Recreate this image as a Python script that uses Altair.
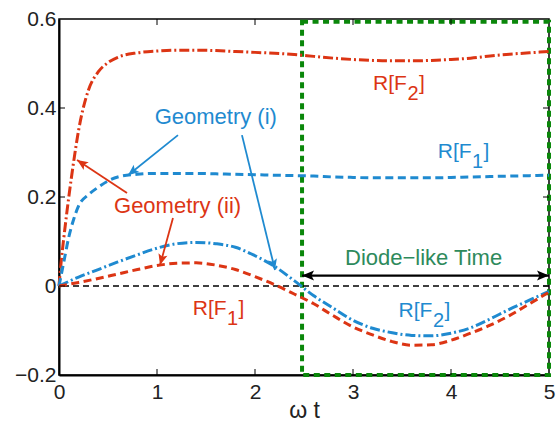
import math
import altair as alt
import pandas as pd

# ---------------- data ----------------
# R[F2], geometry (ii)  (red dash-dot)
x_f2_ii = [0, 0.02, 0.05, 0.1, 0.15, 0.2, 0.3, 0.4, 0.5, 0.6, 0.8, 1.0, 1.2, 1.4, 1.6, 1.8,
           2.0, 2.2, 2.4, 2.6, 2.8, 3.0, 3.2, 3.4, 3.6, 3.8, 4.0, 4.2, 4.4, 4.6, 4.8, 5.0]
y_f2_ii = [0, 0.05, 0.11, 0.2, 0.28, 0.35, 0.44, 0.481, 0.502, 0.514, 0.524, 0.528, 0.530,
           0.530, 0.529, 0.527, 0.525, 0.523, 0.520, 0.516, 0.512, 0.509, 0.507, 0.506, 0.506,
           0.507, 0.509, 0.512, 0.517, 0.521, 0.524, 0.527]

# R[F1], geometry (i)  (blue dashed)
x_f1_i = [0, 0.05, 0.1, 0.15, 0.2, 0.3, 0.4, 0.5, 0.6, 0.8, 1.0, 1.2, 1.4, 1.6, 1.8, 2.0,
          2.2, 2.4, 2.6, 2.8, 3.0, 3.2, 3.4, 3.6, 3.8, 4.0, 4.2, 4.4, 4.6, 4.8, 5.0]
y_f1_i = [0, 0.055, 0.11, 0.15, 0.18, 0.205, 0.222, 0.236, 0.245, 0.251, 0.253, 0.253,
          0.253, 0.252, 0.251, 0.250, 0.249, 0.248, 0.247, 0.245, 0.244, 0.243, 0.243,
          0.243, 0.243, 0.244, 0.245, 0.246, 0.247, 0.248, 0.249]

# R[F2], geometry (i)  (blue dash-dot)
x_f2_i = [0, 0.2, 0.4, 0.6, 0.8, 1.0, 1.2, 1.4, 1.6, 1.8, 2.0, 2.2, 2.4, 2.6, 2.8, 3.0,
          3.2, 3.4, 3.6, 3.8, 4.0, 4.2, 4.4, 4.6, 4.8, 5.0]
y_f2_i = [0, 0.02, 0.037, 0.054, 0.07, 0.085, 0.095, 0.098, 0.095, 0.087, 0.068, 0.044,
          0.012, -0.022, -0.05, -0.077, -0.095, -0.105, -0.111, -0.112, -0.106, -0.094,
          -0.074, -0.052, -0.032, -0.012]

# R[F1], geometry (ii)  (red dashed)
x_f1_ii = [0, 0.2, 0.4, 0.6, 0.8, 1.0, 1.2, 1.4, 1.6, 1.8, 2.0, 2.2, 2.4, 2.6, 2.8, 3.0,
           3.2, 3.4, 3.6, 3.8, 4.0, 4.2, 4.4, 4.6, 4.8, 5.0]
y_f1_ii = [0, 0.008, 0.017, 0.027, 0.037, 0.046, 0.051, 0.052, 0.047, 0.037, 0.021, 0.003,
           -0.018, -0.04, -0.067, -0.092, -0.11, -0.125, -0.133, -0.132, -0.122, -0.106,
           -0.088, -0.066, -0.04, -0.014]

x_ticks = [0, 1, 2, 3, 4, 5]
y_ticks = [-0.2, 0, 0.2, 0.4, 0.6]

diode_start = 2.48
diode_end = 5.0

# annotation texts
ann_text = ["Geometry (i)", "Geometry (ii)", "Diode\u2212like Time"]
ann_x = [1.60, 1.21, 3.72]
ann_y = [0.38, 0.18, 0.063]
ann_col = ["#1f8ad0", "#dc3514", "#2e8a5c"]

# R[F_n] labels: anchor at end of "R[F", baseline y
r_sub = ["2", "1", "1", "2"]
r_x = [3.55, 4.21, 1.71, 3.81]
r_y = [0.440, 0.288, -0.065, -0.070]
r_col = ["#dc3514", "#1f8ad0", "#dc3514", "#1f8ad0"]

# arrows: tail -> head
arr_tx = [1.214, 1.867, 0.694, 1.163]
arr_ty = [0.339, 0.339, 0.209, 0.153]
arr_hx = [0.704, 2.204, 0.184, 1.031]
arr_hy = [0.249, 0.036, 0.283, 0.047]
arr_col = ["#1f8ad0", "#1f8ad0", "#dc3514", "#dc3514"]
diode_arrow_y = 0.0235

# ---------------- styling ----------------
RED = "#dc3514"
BLUE = "#1f8ad0"
GREEN = "#0a870a"
FONT = "Liberation Sans"
W, H = 490, 356
XD = [0, 5]
YD = [-0.2, 0.6]

xs = alt.Scale(domain=XD, nice=False, zero=False)
ys = alt.Scale(domain=YD, nice=False, zero=False)


def line_layer(xv, yv, color, dash):
    df = pd.DataFrame({"x": xv, "y": yv})
    return alt.Chart(df).mark_line(
        color=color, strokeWidth=3, strokeDash=dash, interpolate="monotone"
    ).encode(
        x=alt.X("x:Q", scale=xs, title="\u03c9 t",
                axis=alt.Axis(values=x_ticks, format="d", ticks=False, tickSize=0,
                              labelFontSize=21, labelFont=FONT, labelColor="#222",
                              labelPadding=6, labelFlush=False, grid=False,
                              domainColor="black", domainWidth=2,
                              titleFont=FONT, titleFontSize=23, titleFontWeight="normal",
                              titleColor="#222", titlePadding=-3)),
        y=alt.Y("y:Q", scale=ys, title=None,
                axis=alt.Axis(values=y_ticks, format="~g", ticks=False, tickSize=0,
                              labelFontSize=21, labelFont=FONT, labelColor="#222",
                              labelPadding=3, labelFlush=False, grid=False,
                              domainColor="black", domainWidth=2)),
    )


layers = []

# green diode-time box
box_df = pd.DataFrame({"x": [diode_start], "x2": [diode_end], "y": [YD[0]], "y2": [0.594]})
layers.append(alt.Chart(box_df).mark_rect(
    fillOpacity=0, stroke=GREEN, strokeWidth=4, strokeDash=[6, 4.5]
).encode(x=alt.X("x:Q", scale=xs), x2="x2:Q", y=alt.Y("y:Q", scale=ys), y2="y2:Q"))

# zero line
layers.append(alt.Chart(pd.DataFrame({"y": [0]})).mark_rule(
    color="black", strokeWidth=1.5, strokeDash=[6, 4]
).encode(y=alt.Y("y:Q", scale=ys)))

layers.append(line_layer(x_f2_ii, y_f2_ii, RED, [10, 3, 2, 3]))
layers.append(line_layer(x_f1_i, y_f1_i, BLUE, [8, 4.5]))
layers.append(line_layer(x_f2_i, y_f2_i, BLUE, [10, 3, 2, 3]))
layers.append(line_layer(x_f1_ii, y_f1_ii, RED, [8, 4.5]))

# inward ticks (box style)
xt_in = pd.DataFrame({"x": x_ticks[1:-1]})
yt_in = pd.DataFrame({"y": y_ticks[1:-1]})
for y0, y1 in [(H, H - 6), (0, 6)]:
    layers.append(alt.Chart(xt_in).mark_rule(color="black", strokeWidth=1).encode(
        x=alt.X("x:Q", scale=xs), y=alt.value(y0), y2=alt.value(y1)))
for x0, x1 in [(0, 6), (W, W - 6)]:
    layers.append(alt.Chart(yt_in).mark_rule(color="black", strokeWidth=1).encode(
        y=alt.Y("y:Q", scale=ys), x=alt.value(x0), x2=alt.value(x1)))

# arrows
sx = W / (XD[1] - XD[0])
sy = H / (YD[1] - YD[0])
ARROW_PATH = "M0,0 L-0.42,1 L0,0.78 L0.42,1 Z"


def angle_of(tx, ty, hx, hy):
    dx = (hx - tx) * sx
    dy = -(hy - ty) * sy
    return math.degrees(math.atan2(dx, -dy)) % 360


arr_df = pd.DataFrame({"tx": arr_tx, "ty": arr_ty, "hx": arr_hx, "hy": arr_hy, "c": arr_col})
arr_df["ang"] = [angle_of(a, b, c, d) for a, b, c, d in zip(arr_tx, arr_ty, arr_hx, arr_hy)]

layers.append(alt.Chart(arr_df).mark_rule(strokeWidth=1.8).encode(
    x=alt.X("tx:Q", scale=xs), y=alt.Y("ty:Q", scale=ys), x2="hx:Q", y2="hy:Q",
    color=alt.Color("c:N", scale=None)))
layers.append(alt.Chart(arr_df).mark_point(
    shape=ARROW_PATH, filled=True, size=484, opacity=1, strokeWidth=0
).encode(x=alt.X("hx:Q", scale=xs), y=alt.Y("hy:Q", scale=ys),
         angle=alt.Angle("ang:Q", scale=None), color=alt.Color("c:N", scale=None)))

# diode double arrow
d_df = pd.DataFrame({"x": [diode_start], "x2": [diode_end], "y": [diode_arrow_y]})
layers.append(alt.Chart(d_df).mark_rule(color="black", strokeWidth=2.2).encode(
    x=alt.X("x:Q", scale=xs), x2="x2:Q", y=alt.Y("y:Q", scale=ys)))
dh_df = pd.DataFrame({"x": [diode_start, diode_end], "y": [diode_arrow_y] * 2,
                      "ang": [270.0, 90.0]})
layers.append(alt.Chart(dh_df).mark_point(
    shape=ARROW_PATH, filled=True, size=576, opacity=1, strokeWidth=0, color="black"
).encode(x=alt.X("x:Q", scale=xs), y=alt.Y("y:Q", scale=ys),
         angle=alt.Angle("ang:Q", scale=None)))

# annotation texts
ann_df = pd.DataFrame({"x": ann_x, "y": ann_y, "t": ann_text, "c": ann_col})
layers.append(alt.Chart(ann_df).mark_text(
    font=FONT, fontSize=22, align="center", baseline="middle"
).encode(x=alt.X("x:Q", scale=xs), y=alt.Y("y:Q", scale=ys), text="t:N",
         color=alt.Color("c:N", scale=None)))

# R[F_n] labels with subscripts
r_df = pd.DataFrame({"x": r_x, "y": r_y, "s": r_sub, "c": r_col})
base = alt.Chart(r_df).encode(x=alt.X("x:Q", scale=xs), y=alt.Y("y:Q", scale=ys),
                              color=alt.Color("c:N", scale=None))
layers.append(base.mark_text(font=FONT, fontSize=21, align="right", baseline="alphabetic")
              .encode(text=alt.value("R[F")))
layers.append(base.mark_text(font=FONT, fontSize=20, align="left", baseline="alphabetic",
                             dx=0.5, dy=10).encode(text="s:N"))
layers.append(base.mark_text(font=FONT, fontSize=21, align="left", baseline="alphabetic",
                             dx=12).encode(text=alt.value("]")))

chart = alt.layer(*layers).properties(
    width=W, height=H,
    padding={"left": 59, "top": 19, "right": 7, "bottom": 48},
    autosize=alt.AutoSizeParams(type="none"),
    background="white",
).configure_view(stroke="black", strokeWidth=1.5)

chart.save("out.html", embed_options={"renderer": "svg", "actions": False})
